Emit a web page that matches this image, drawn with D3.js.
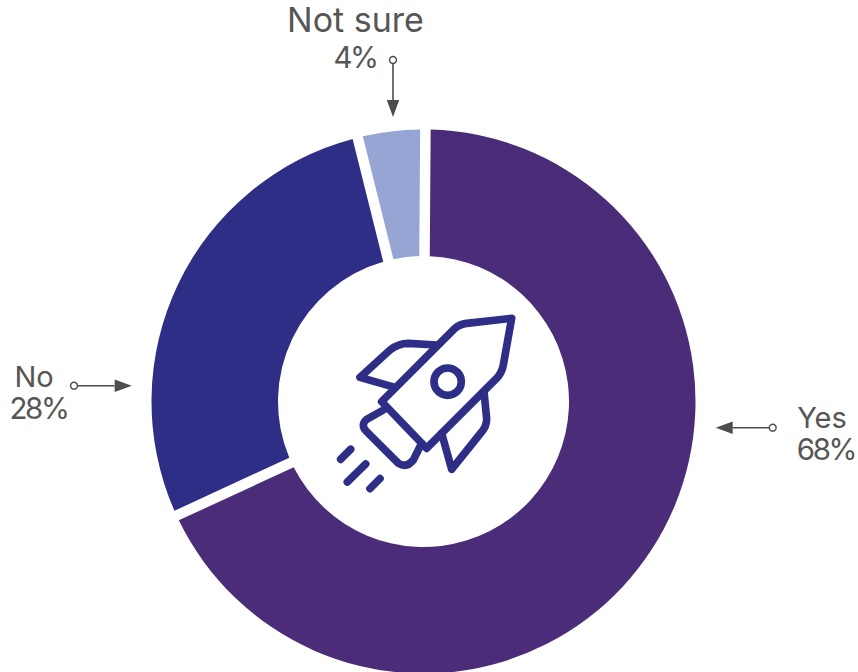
<!DOCTYPE html>
<html>
<head>
<meta charset="utf-8">
<script src="https://cdn.jsdelivr.net/npm/d3@7"></script>
<style>
html,body{margin:0;padding:0;background:#fff;}
svg{display:block;}
text{font-family:Inter,"Open Sans",sans-serif;fill:#565656;}
</style>
</head>
<body>
<svg id="chart" width="858" height="672"></svg>
<script>
const categories = ["Yes", "No", "Not sure"];
const shares = [68, 28, 4];
const sliceColors = ["#4b2c78", "#2e2e86", "#97a5d4"];

const width = 858, height = 672;
const cx = 423.5, cy = 401.5, outerR = 272, innerR = 145.5, gap = 10.5;
const rotation = 0.007;

const svg = d3.select("#chart").attr("viewBox", [0, 0, width, height]);

const pie = d3.pie().sort(null).value(d => d)
  .startAngle(rotation).endAngle(2 * Math.PI + rotation);
const arc = d3.arc()
  .innerRadius(innerR).outerRadius(outerR)
  .padRadius(outerR).padAngle(gap / outerR);

svg.append("g").attr("transform", `translate(${cx},${cy})`)
  .selectAll("path").data(pie(shares)).join("path")
  .attr("d", arc)
  .attr("fill", (d, i) => sliceColors[i]);

// Callouts: a two-line label plus a leader with a ring at one end and an arrowhead at the other
const callouts = [
  {name: 0, size: 29, lines: [[822, 428], [826, 460]], from: [772.7, 427.7], to: [715.7, 427.7]},
  {name: 1, size: 29, lines: [[34, 387], [38.5, 419]], from: [74, 385.7], to: [131.7, 385.7]},
  {name: 2, size: 34, lines: [[355.5, 32], [355, 68]], from: [393, 60], to: [393, 117]}
];
const ink = "#4d4d4f", headLen = 17, headHalf = 6.2;
const g = svg.append("g");
callouts.forEach(c => {
  const [x0, y0] = c.from, [x1, y1] = c.to;
  const len = Math.hypot(x1 - x0, y1 - y0), ux = (x1 - x0) / len, uy = (y1 - y0) / len;
  const bx = x1 - ux * headLen, by = y1 - uy * headLen;
  g.append("line").attr("x1", x0).attr("y1", y0).attr("x2", bx).attr("y2", by)
    .attr("stroke", ink).attr("stroke-width", 1.6);
  g.append("path")
    .attr("d", d3.line()([[x1, y1], [bx - uy * headHalf, by + ux * headHalf], [bx + uy * headHalf, by - ux * headHalf]]) + "Z")
    .attr("fill", ink);
  g.append("circle").attr("cx", x0).attr("cy", y0).attr("r", 3.4)
    .attr("fill", "#fff").attr("stroke", ink).attr("stroke-width", 1.5);
  const label = g.append("text").attr("text-anchor", "middle");
  label.append("tspan").attr("x", c.lines[0][0]).attr("y", c.lines[0][1])
    .attr("font-size", c.size).text(categories[c.name]);
  label.append("tspan").attr("x", c.lines[1][0]).attr("y", c.lines[1][1])
    .attr("font-size", 29.5).attr("letter-spacing", -2.4).text(shares[c.name] + "%");
});

// Rocket icon in the hole of the ring
const rocket = svg.append("g")
  .attr("transform", "translate(320,300) scale(0.3333)")
  .attr("fill", "none").attr("stroke", "#2e2e86").attr("stroke-width", 23)
  .attr("stroke-linecap", "round").attr("stroke-linejoin", "round");
[
  "M575 55 L440 70 Q418 73 405 85 L185 305 L320 445 L530 235 Q546 218 550 195 Z",
  "M350 135 L265 130 Q235 130 210 150 L120 232 L225 262",
  "M492 275 L500 355 Q501 380 480 402 L395 508 L365 400",
  "M190 330 L140 358 Q120 375 140 395 L235 490 Q260 505 280 480 L305 430",
  "M62 478 L92 448",
  "M82 546 L137 492",
  "M150 566 L180 536"
].forEach(d => rocket.append("path").attr("d", d));
rocket.append("circle").attr("cx", 383).attr("cy", 245).attr("r", 41);
</script>
</body>
</html>
